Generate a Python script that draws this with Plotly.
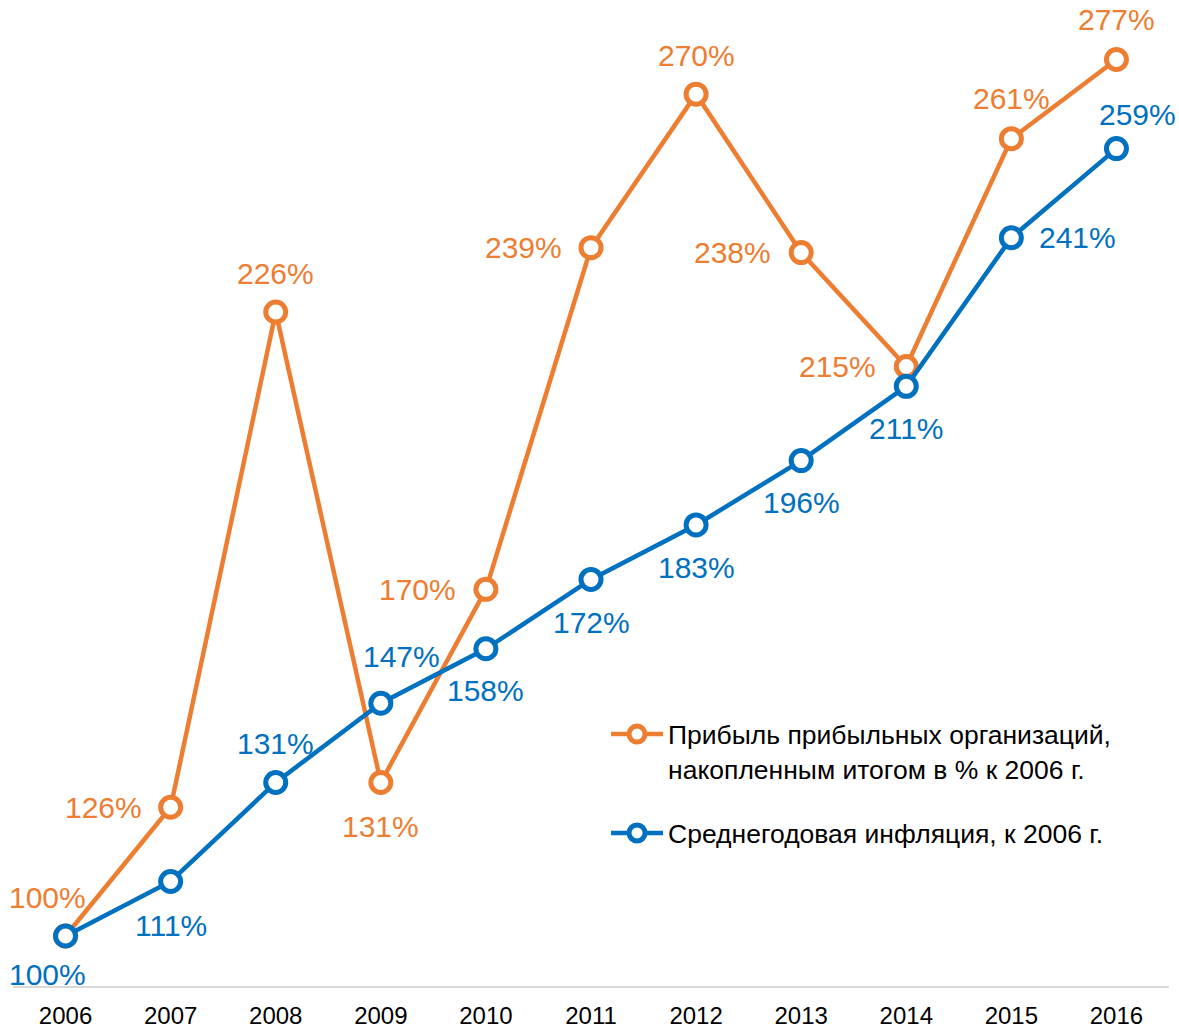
import plotly.graph_objects as go

# ─── Данные ─────────────────────────────────────────────────────────────
YEARS = ["2006", "2007", "2008", "2009", "2010", "2011",
         "2012", "2013", "2014", "2015", "2016"]
PROFIT = [100, 126, 226, 131, 170, 239, 270, 238, 215, 261, 277]
INFLATION = [100, 111, 131, 147, 158, 172, 183, 196, 211, 241, 259]

NAME_PROFIT = "Прибыль прибыльных организаций,<br>накопленным итогом в % к 2006 г."
NAME_INFL = "Среднегодовая инфляция, к 2006 г."

# ─── Цвета ──────────────────────────────────────────────────────────────
ORANGE = "#ED7D31"
BLUE = "#0070C0"
FONT = "Liberation Sans, Arial, sans-serif"

# смещения подписей (px): (dx, dy), dy вверх
OFFS_PROFIT = [(-18, 38), (-67, 0), (0, 39), (0, -44), (-68, 0), (-68, 0),
               (0, 39), (-69, 0), (-69, 0), (0, 40), (0, 40)]
OFFS_INFL = [(-18, -39), (0, -44), (0, 39), (21, 47), (0, -42), (0, -43),
             (0, -43), (0, -42), (0, -42), (66, 0), (21, 34)]

fig = go.Figure()

for name, vals, color in [(NAME_PROFIT, PROFIT, ORANGE), (NAME_INFL, INFLATION, BLUE)]:
    fig.add_trace(go.Scatter(
        x=YEARS, y=vals,
        mode="lines+markers",
        name=name,
        legendgroup=name,
        line=dict(color=color, width=4.5),
        marker=dict(size=20, color="white", line=dict(color=color, width=5)),
        cliponaxis=False,
    ))

for vals, offs, color in [(PROFIT, OFFS_PROFIT, ORANGE), (INFLATION, OFFS_INFL, BLUE)]:
    for i, (v, (dx, dy)) in enumerate(zip(vals, offs)):
        fig.add_annotation(
            x=i, y=v, xref="x", yref="y",
            text=f"{v}%", showarrow=False,
            xanchor="center", yanchor="middle",
            xshift=dx, yshift=dy,
            font=dict(family=FONT, size=30, color=color),
        )

fig.update_layout(
    width=1179, height=1030,
    margin=dict(l=13, r=10, t=5, b=44),
    plot_bgcolor="white",
    paper_bgcolor="white",
    font=dict(family=FONT, color="black"),
    showlegend=True,
    legend=dict(
        x=0.513, y=0.281, xanchor="left", yanchor="top",
        font=dict(family=FONT, size=26.5, color="black"),
        itemwidth=52, tracegroupgap=27, valign="top",
        bgcolor="rgba(0,0,0,0)",
    ),
    xaxis=dict(
        type="category", range=[-0.5, 10.5],
        showgrid=False, zeroline=False, automargin=False,
        showline=True, linecolor="#D9D9D9", linewidth=2,
        ticks="", ticklabelstandoff=7,
        tickfont=dict(family=FONT, size=24, color="black"),
    ),
    yaxis=dict(
        range=[89.9, 288], showgrid=False, zeroline=False, automargin=False,
        showticklabels=False, showline=False, ticks="",
    ),
)

fig.write_html("out.html", config={"displayModeBar": False},
               post_script="document.body.style.margin='0';")
